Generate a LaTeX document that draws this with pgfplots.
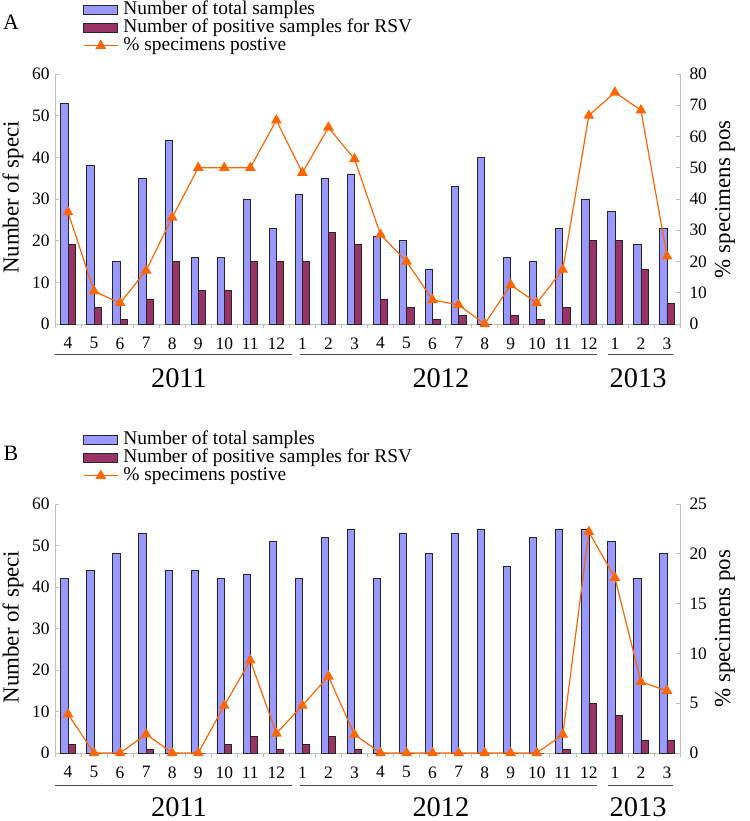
\documentclass[border=0pt]{standalone}
\usepackage{fontspec}
\setmainfont{Liberation Serif}
\usepackage{pgfplots}
\pgfplotsset{compat=1.18}
\definecolor{barblue}{HTML}{9999FF}
\definecolor{barpurple}{HTML}{993366}
\definecolor{lineorange}{HTML}{FF6600}
\definecolor{axgray}{HTML}{C0C0C0}
\newcommand{\fs}[1]{\fontsize{#1}{#1}\selectfont}
\pgfplotsset{
  barax/.style={
    scale only axis, width=625bp,
    xmin=-0.5, xmax=23.5, ymin=0, ymax=60,
    axis x line*=bottom, axis y line*=left,
    axis line style={axgray, line width=0.8bp},
    xtick={0,...,23},
    xticklabels={4,5,6,7,8,9,10,11,12,1,2,3,4,5,6,7,8,9,10,11,12,1,2,3},
    major x tick style={draw=none},
    minor xtick={-0.5,0.5,...,23.5},
    minor x tick style={axgray, line width=0.6bp},
    minor tick length=4bp,
    ytick={0,10,...,60},
    major tick length=4bp,
    y tick style={axgray, line width=0.6bp},
    tick label style={font=\fs{17.5}},
    /pgf/number format/assume math mode=true,
    xticklabel style={yshift=-6bp},
    yticklabel style={xshift=-2bp},
    ylabel={Number of speci},
    ylabel style={font=\fs{23}, at={(axis description cs:-0.0672,0.506)}, anchor=center},
    clip=false,
    ybar, bar width=7.3bp,
  },
  lineax/.style={
    scale only axis, width=625bp,
    xmin=-0.5, xmax=23.5, ymin=0,
    axis x line=none, axis y line*=right,
    axis line style={axgray, line width=0.8bp},
    major tick length=4bp,
    y tick style={axgray, line width=0.6bp},
    tick label style={font=\fs{17.5}},
    /pgf/number format/assume math mode=true,
    yticklabel style={xshift=6bp},
    ylabel={\% specimens pos},
    ylabel style={font=\fs{23}, at={(axis description cs:1.072,0.214+0.5*0.57)}, anchor=center},
    clip=false,
    legend style={anchor=north west, draw=none, fill=none, inner sep=0pt,
      font=\fs{19.5}, row sep=1bp, column sep=5bp,
      nodes={inner sep=0pt, text height=13bp, text depth=4bp}},
    legend cell align=left,
  },
  totbar/.style={fill=barblue, draw=black!85, line width=0.7bp, bar shift=-3.65bp},
  posbar/.style={fill=barpurple, draw=black!85, line width=0.7bp, bar shift=3.65bp},
  pctline/.style={lineorange, line width=1.2bp, mark=triangle*, mark size=5bp,
    mark options={fill=lineorange, draw=lineorange, solid},
    legend image code/.code={\draw[mark repeat=2,mark phase=2,##1] plot coordinates {(0bp,0bp) (17bp,0bp) (34bp,0bp)};}},
  boxtot/.style={legend image code/.code={\draw[fill=barblue,draw=black!85,line width=0.7bp] (0bp,-4.5bp) rectangle (34bp,4.5bp);}},
  boxpos/.style={legend image code/.code={\draw[fill=barpurple,draw=black!85,line width=0.7bp] (0bp,-4.5bp) rectangle (34bp,4.5bp);}},
}
\begin{document}
\begin{tikzpicture}
\useasboundingbox (0,0) rectangle (750bp,821bp);
% ---------------- Panel A ----------------
\begin{axis}[barax, height=250bp, at={(55bp,497bp)}, anchor=south west]
\addplot[totbar] coordinates {(0,53) (1,38) (2,15) (3,35) (4,44) (5,16) (6,16) (7,30) (8,23) (9,31) (10,35) (11,36) (12,21) (13,20) (14,13) (15,33) (16,40) (17,16) (18,15) (19,23) (20,30) (21,27) (22,19) (23,23)};
\addplot[posbar] coordinates {(0,19) (1,4) (2,1) (3,6) (4,15) (5,8) (6,8) (7,15) (8,15) (9,15) (10,22) (11,19) (12,6) (13,4) (14,1) (15,2) (16,0) (17,2) (18,1) (19,4) (20,20) (21,20) (22,13) (23,5)};
\node[font=\fs{22}] at (axis description cs:-0.0704,1.208) {A};
\draw[black!70, line width=0.8bp] ([yshift=-30bp]axis cs:-0.5,0) -- ([yshift=-30bp]axis cs:8.6,0);
\draw[black!70, line width=0.8bp] ([yshift=-30bp]axis cs:8.91,0) -- ([yshift=-30bp]axis cs:20.31,0);
\draw[black!70, line width=0.8bp] ([yshift=-30bp]axis cs:20.74,0) -- ([yshift=-30bp]axis cs:23.23,0);
\node[font=\fs{28.5}] at ([yshift=-54bp]axis cs:4.26,0) {2011};
\node[font=\fs{28.5}] at ([yshift=-54bp]axis cs:14.32,0) {2012};
\node[font=\fs{28.5}] at ([yshift=-54bp]axis cs:21.89,0) {2013};
\end{axis}
\begin{axis}[lineax, height=250bp, at={(55bp,497bp)}, anchor=south west, ymax=80, ytick={0,10,...,80},
  legend style={at={(axis description cs:0.0448,1.292)}}]
\addlegendimage{boxtot}
\addlegendentry{Number of total samples}
\addlegendimage{boxpos}
\addlegendentry{Number of positive samples for RSV}
\addplot[pctline] coordinates {(0,35.8) (1,10.5) (2,6.7) (3,17.1) (4,34.1) (5,50) (6,50) (7,50) (8,65.2) (9,48.4) (10,62.9) (11,52.8) (12,28.6) (13,20.0) (14,7.7) (15,6.1) (16,0) (17,12.5) (18,6.7) (19,17.4) (20,66.7) (21,74.1) (22,68.4) (23,21.7)};
\addlegendentry{\% specimens postive}
\end{axis}
% ---------------- Panel B ----------------
\begin{axis}[barax, height=249bp, at={(55bp,68bp)}, anchor=south west]
\addplot[totbar] coordinates {(0,42) (1,44) (2,48) (3,53) (4,44) (5,44) (6,42) (7,43) (8,51) (9,42) (10,52) (11,54) (12,42) (13,53) (14,48) (15,53) (16,54) (17,45) (18,52) (19,54) (20,54) (21,51) (22,42) (23,48)};
\addplot[posbar] coordinates {(0,2) (1,0) (2,0) (3,1) (4,0) (5,0) (6,2) (7,4) (8,1) (9,2) (10,4) (11,1) (12,0) (13,0) (14,0) (15,0) (16,0) (17,0) (18,0) (19,1) (20,12) (21,9) (22,3) (23,3)};
\node[font=\fs{22}] at (axis description cs:-0.0704,1.205) {B};
\draw[black!70, line width=0.8bp] ([yshift=-32bp]axis cs:-0.5,0) -- ([yshift=-32bp]axis cs:8.6,0);
\draw[black!70, line width=0.8bp] ([yshift=-32bp]axis cs:8.91,0) -- ([yshift=-32bp]axis cs:20.31,0);
\draw[black!70, line width=0.8bp] ([yshift=-32bp]axis cs:20.74,0) -- ([yshift=-32bp]axis cs:23.23,0);
\node[font=\fs{28.5}] at ([yshift=-54bp]axis cs:4.26,0) {2011};
\node[font=\fs{28.5}] at ([yshift=-54bp]axis cs:14.32,0) {2012};
\node[font=\fs{28.5}] at ([yshift=-54bp]axis cs:21.89,0) {2013};
\end{axis}
\begin{axis}[lineax, height=249bp, at={(55bp,68bp)}, anchor=south west, ymax=25, ytick={0,5,...,25},
  legend style={at={(axis description cs:0.0448,1.293)}}]
\addlegendimage{boxtot}
\addlegendentry{Number of total samples}
\addlegendimage{boxpos}
\addlegendentry{Number of positive samples for RSV}
\addplot[pctline] coordinates {(0,3.9) (1,0) (2,0) (3,1.89) (4,0) (5,0) (6,4.76) (7,9.30) (8,1.96) (9,4.76) (10,7.69) (11,1.85) (12,0) (13,0) (14,0) (15,0) (16,0) (17,0) (18,0) (19,1.85) (20,22.2) (21,17.6) (22,7.14) (23,6.25)};
\addlegendentry{\% specimens postive}
\end{axis}
\end{tikzpicture}
\end{document}
